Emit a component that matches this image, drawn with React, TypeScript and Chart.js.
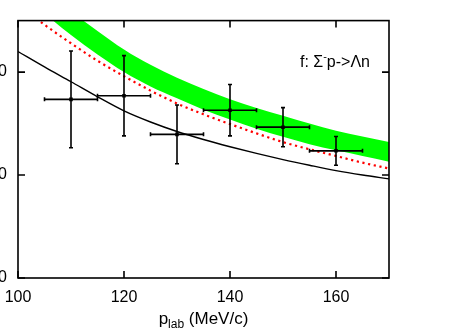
import React, { useEffect, useRef } from "react";
import { Chart, registerables } from "chart.js";
Chart.register(...registerables);

const curveX = [100, 105, 110, 115, 120, 125, 130, 135, 140, 145, 150, 155, 160, 165, 170];
const blackCurve = [22.0, 20.5, 19.06, 17.6, 16.23, 15.15, 14.23, 13.45, 12.75, 12.1, 11.5, 10.95, 10.43, 10.0, 9.63];
const redCurve = [26.6, 24.6, 22.8, 21.1, 19.6, 18.2, 16.95, 15.9, 14.95, 14.05, 13.2, 12.5, 11.85, 11.2, 10.63];
const bandUpper = [30.5, 28.0, 25.9, 24.0, 22.2, 20.7, 19.45, 18.35, 17.35, 16.5, 15.75, 15.0, 14.3, 13.75, 13.2];
const bandLower = [28.0, 25.7, 23.6, 21.7, 20.0, 18.6, 17.45, 16.35, 15.4, 14.5, 13.72, 13.0, 12.4, 11.85, 11.3];

const dataX = [110, 120, 130, 140, 150, 160];
const dataY = [17.35, 17.7, 13.95, 16.3, 14.65, 12.35];
const dataYErr = [4.7, 3.9, 2.85, 2.5, 1.9, 1.4];
const dataXErr = [5, 5, 5, 5, 5, 5];

const xTicks = [100, 120, 140, 160];
const yTicks = [0, 10, 20];
const xMin = 100, xMax = 170, yMin = 0, yMax = 25;

const FONT = '"Liberation Sans", Arial, sans-serif';

const pts = (ys: number[]) => curveX.map((x, i) => ({ x, y: ys[i] }));

const decor = {
  id: "decor",
  afterDatasetsDraw(chart: any) {
    const { ctx, scales } = chart;
    const x = scales.x, y = scales.y;
    ctx.save();
    ctx.strokeStyle = "#000";
    ctx.lineWidth = 1.6;
    const cap = 2;
    dataX.forEach((vx, i) => {
      const px = x.getPixelForValue(vx);
      const py = y.getPixelForValue(dataY[i]);
      const x0 = x.getPixelForValue(vx - dataXErr[i]);
      const x1 = x.getPixelForValue(vx + dataXErr[i]);
      const y0 = y.getPixelForValue(dataY[i] - dataYErr[i]);
      const y1 = y.getPixelForValue(dataY[i] + dataYErr[i]);
      ctx.beginPath();
      ctx.moveTo(x0, py); ctx.lineTo(x1, py);
      ctx.moveTo(px, y0); ctx.lineTo(px, y1);
      ctx.moveTo(x0, py - cap); ctx.lineTo(x0, py + cap);
      ctx.moveTo(x1, py - cap); ctx.lineTo(x1, py + cap);
      ctx.moveTo(px - cap, y0); ctx.lineTo(px + cap, y0);
      ctx.moveTo(px - cap, y1); ctx.lineTo(px + cap, y1);
      ctx.stroke();
    });
    ctx.restore();
  },
  afterDraw(chart: any) {
    const { ctx, chartArea: a, scales } = chart;
    const x = scales.x, y = scales.y;
    ctx.save();
    ctx.strokeStyle = "#000";
    ctx.lineWidth = 1.6;
    ctx.strokeRect(a.left, a.top, a.right - a.left, a.bottom - a.top);
    const tl = 7;
    ctx.beginPath();
    xTicks.forEach((v) => {
      const px = x.getPixelForValue(v);
      ctx.moveTo(px, a.bottom); ctx.lineTo(px, a.bottom - tl);
      ctx.moveTo(px, a.top); ctx.lineTo(px, a.top + tl);
    });
    yTicks.forEach((v) => {
      const py = y.getPixelForValue(v);
      ctx.moveTo(a.left, py); ctx.lineTo(a.left + tl, py);
      ctx.moveTo(a.right, py); ctx.lineTo(a.right - tl, py);
    });
    ctx.stroke();

    // axis title p_lab (MeV/c)
    ctx.fillStyle = "#000";
    ctx.textBaseline = "alphabetic";
    ctx.textAlign = "left";
    const big = `17px ${FONT}`;
    const small = `12px ${FONT}`;
    ctx.font = big;
    const wP = ctx.measureText("p").width;
    const wRest = ctx.measureText(" (MeV/c)").width;
    ctx.font = small;
    const wSub = ctx.measureText("lab").width;
    const total = wP + wSub + wRest;
    const cx = (a.left + a.right) / 2;
    let tx = cx - total / 2;
    const base = a.bottom + 46;
    ctx.font = big;
    ctx.fillText("p", tx, base);
    tx += wP;
    ctx.font = small;
    ctx.fillText("lab", tx, base + 4);
    tx += wSub;
    ctx.font = big;
    ctx.fillText(" (MeV/c)", tx, base);

    // label f: Σ⁻p->Λn
    const lf = `16px ${FONT}`;
    const sf = `11px ${FONT}`;
    ctx.font = lf;
    const s1 = "f: Σ", s3 = "p->Λn";
    const w1 = ctx.measureText(s1).width;
    const w3 = ctx.measureText(s3).width;
    ctx.font = sf;
    const w2 = ctx.measureText("-").width;
    const lbBase = a.top + 46;
    let lx = a.right - 19 - (w1 + w2 + w3);
    ctx.font = lf;
    ctx.fillText(s1, lx, lbBase);
    lx += w1;
    ctx.font = sf;
    ctx.fillText("-", lx, lbBase - 7);
    lx += w2;
    ctx.font = lf;
    ctx.fillText(s3, lx, lbBase);
    ctx.restore();
  },
};

export default function App() {
  const ref = useRef<HTMLCanvasElement | null>(null);
  useEffect(() => {
    if (!ref.current) return;
    const chart = new Chart(ref.current, {
      type: "scatter",
      data: {
        datasets: [
          {
            type: "line",
            data: pts(bandUpper),
            borderWidth: 0,
            pointRadius: 0,
            backgroundColor: "rgb(0,255,0)",
            borderColor: "rgba(0,0,0,0)",
            fill: "+1",
            cubicInterpolationMode: "monotone",
            order: 5,
          },
          {
            type: "line",
            data: pts(bandLower),
            borderWidth: 0,
            pointRadius: 0,
            borderColor: "rgba(0,0,0,0)",
            fill: false,
            cubicInterpolationMode: "monotone",
            order: 4,
          },
          {
            type: "line",
            data: pts(redCurve),
            borderWidth: 2.2,
            borderColor: "rgb(255,0,0)",
            borderDash: [2.2, 3.6],
            pointRadius: 0,
            fill: false,
            cubicInterpolationMode: "monotone",
            order: 3,
          },
          {
            type: "line",
            data: pts(blackCurve),
            borderWidth: 1.4,
            borderColor: "#000",
            pointRadius: 0,
            fill: false,
            cubicInterpolationMode: "monotone",
            order: 2,
          },
          {
            data: dataX.map((x, i) => ({ x, y: dataY[i] })),
            pointRadius: 2.5,
            pointStyle: "rect",
            backgroundColor: "#000",
            borderColor: "#000",
            borderWidth: 0,
            order: 1,
          },
        ],
      },
      options: {
        animation: false,
        responsive: false,
        maintainAspectRatio: false,
        devicePixelRatio: 1,
        layout: { padding: { top: 20, right: 75, left: 0, bottom: 0 } },
        plugins: { legend: { display: false }, tooltip: { enabled: false } },
        scales: {
          x: {
            type: "linear",
            min: xMin,
            max: xMax,
            afterBuildTicks: (s: any) => {
              s.ticks = xTicks.map((v) => ({ value: v }));
            },
            afterFit: (s: any) => {
              s.height = 55;
            },
            grid: { display: false, drawTicks: false },
            border: { display: false },
            ticks: {
              padding: 10,
              color: "#000",
              font: { family: FONT, size: 16 },
              maxRotation: 0,
              callback: (v: any) => String(v),
            },
          },
          y: {
            type: "linear",
            min: yMin,
            max: yMax,
            afterBuildTicks: (s: any) => {
              s.ticks = yTicks.map((v) => ({ value: v }));
            },
            afterFit: (s: any) => {
              s.width = 48;
            },
            grid: { display: false, drawTicks: false },
            border: { display: false },
            ticks: {
              padding: 11,
              color: "#000",
              font: { family: FONT, size: 16 },
              callback: (v: any) => String(v),
            },
          },
        },
      },
      plugins: [decor],
    } as any);
    return () => chart.destroy();
  }, []);
  return (
    <div style={{ position: "fixed", left: -30, top: 0, width: 494, height: 333, background: "#fff" }}>
      <canvas ref={ref} width={494} height={333} style={{ width: 494, height: 333, display: "block" }} />
    </div>
  );
}
